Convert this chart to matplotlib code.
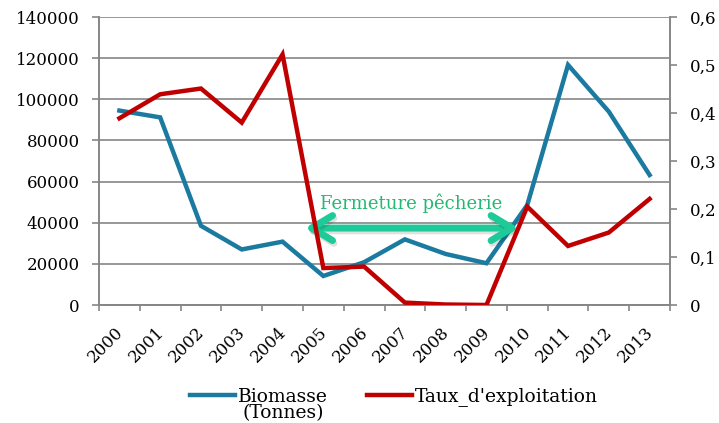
import numpy as np
import matplotlib.pyplot as plt
import matplotlib.patheffects as pe
from matplotlib.ticker import FixedLocator, FuncFormatter
from matplotlib.transforms import ScaledTranslation

plt.rcParams['font.family'] = ['DejaVu Serif']

years = ['2000', '2001', '2002', '2003', '2004', '2005', '2006',
         '2007', '2008', '2009', '2010', '2011', '2012', '2013']
biomasse = [94500, 91200, 38500, 27000, 30800, 14100, 20800,
            31900, 24800, 20300, 48600, 116700, 94000, 63200]
taux = [0.389, 0.439, 0.451, 0.380, 0.522, 0.077, 0.080,
        0.005, 0.001, 0.0, 0.205, 0.123, 0.151, 0.221]

blue = '#1b7aa0'
red = '#c00000'
grey = '#868686'
green_arrow = '#1dca98'
green_text = '#25b872'

fig = plt.figure(figsize=(7.19, 4.23), dpi=100)
ax = fig.add_axes([99/719, 1-305/423, 571/719, 288/423])
ax2 = ax.twinx()

x = np.arange(len(years))
l1, = ax.plot(x, biomasse, color=blue, lw=3.2, solid_joinstyle='miter', zorder=3)
l2, = ax2.plot(x, taux, color=red, lw=3.2, solid_joinstyle='miter', zorder=3)

ax.set_xlim(-0.5, len(years) - 0.5)
ax.set_ylim(0, 140000)
ax2.set_ylim(0, 0.6)

ax.set_yticks(np.arange(0, 140001, 20000))
ax.set_yticklabels([str(v) for v in range(0, 140001, 20000)], fontsize=12)
ax2.set_yticks(np.arange(0, 0.61, 0.1))
ax2.yaxis.set_major_formatter(FuncFormatter(
    lambda v, p: '0' if abs(v) < 1e-9 else ('%.1f' % v).replace('.', ',')))
for lab in ax2.get_yticklabels():
    lab.set_fontsize(12)

ax.set_xticks(x)
ax.set_xticklabels(years, rotation=45, ha='right', rotation_mode='anchor', fontsize=12)
ax.tick_params(axis='x', which='major', length=0, pad=12)
shift = ScaledTranslation(-0.05, -0.02, fig.dpi_scale_trans)
for lab in ax.get_xticklabels():
    lab.set_transform(lab.get_transform() + shift)
ax.xaxis.set_minor_locator(FixedLocator(np.arange(-0.5, len(years), 1)))
ax.tick_params(axis='x', which='minor', length=4.5, width=1.2, color=grey)
ax.tick_params(axis='y', length=5, width=1.2, color=grey, pad=9)
ax2.tick_params(axis='y', length=5, width=1.2, color=grey, pad=9)

ax.grid(axis='y', color=grey, lw=1.2)
ax.set_axisbelow(True)
for a in (ax, ax2):
    a.spines['top'].set_visible(False)
    for s in ('left', 'right', 'bottom'):
        a.spines[s].set_color(grey)
        a.spines[s].set_linewidth(1.2)

# fishery closure arrow
ax.annotate('', xy=(4.55, 37400), xytext=(9.79, 37400),
            arrowprops=dict(arrowstyle='<->,head_length=0.75,head_width=0.45',
                            mutation_scale=20, lw=5, color=green_arrow,
                            capstyle='round', joinstyle='round',
                            shrinkA=0, shrinkB=0,
                            path_effects=[pe.SimpleLineShadow(offset=(1, -2), alpha=0.12),
                                          pe.Normal()]),
            zorder=5)
ax.text(7.15, 49600, 'Fermeture pêcherie', color=green_text, fontsize=13,
        ha='center', va='center', zorder=5)

leg = fig.legend([l1, l2], ['Biomasse', "Taux_d'exploitation"],
                 loc='center', bbox_to_anchor=(394/719, 1-397/423), ncol=2,
                 frameon=False, fontsize=13.5, handlelength=2.4, handletextpad=0.15,
                 columnspacing=2.1, borderpad=0)
fig.canvas.draw()
bb = leg.get_texts()[0].get_window_extent().transformed(fig.transFigure.inverted())
fig.text((bb.x0 + bb.x1) / 2, bb.y0 + 0.003, '(Tonnes)', fontsize=13.5,
         ha='center', va='top')

fig.savefig('out.png', dpi=100)
